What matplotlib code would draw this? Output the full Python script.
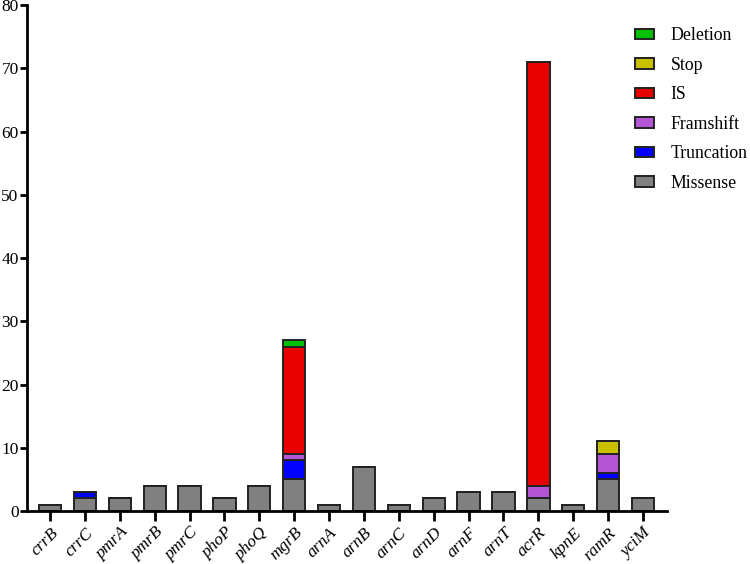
import numpy as np
import matplotlib.pyplot as plt

plt.rcParams['font.family'] = ['Liberation Serif', 'DejaVu Serif']

genes = ['crrB', 'crrC', 'pmrA', 'pmrB', 'pmrC', 'phoP', 'phoQ', 'mgrB', 'arnA',
         'arnB', 'arnC', 'arnD', 'arnF', 'arnT', 'acrR', 'kpnE', 'ramR', 'yciM']

missense   = [1, 2, 2, 4, 4, 2, 4, 5, 1, 7, 1, 2, 3, 3, 2, 1, 5, 2]
truncation = [0, 1, 0, 0, 0, 0, 0, 3, 0, 0, 0, 0, 0, 0, 0, 0, 1, 0]
framshift  = [0, 0, 0, 0, 0, 0, 0, 1, 0, 0, 0, 0, 0, 0, 2, 0, 3, 0]
insertion  = [0, 0, 0, 0, 0, 0, 0, 17, 0, 0, 0, 0, 0, 0, 67, 0, 0, 0]
stop       = [0, 0, 0, 0, 0, 0, 0, 0, 0, 0, 0, 0, 0, 0, 0, 0, 2, 0]
deletion   = [0, 0, 0, 0, 0, 0, 0, 1, 0, 0, 0, 0, 0, 0, 0, 0, 0, 0]

series = [
    ('Missense', missense, '#808080'),
    ('Truncation', truncation, '#0000FF'),
    ('Framshift', framshift, '#B455D6'),
    ('IS', insertion, '#E80000'),
    ('Stop', stop, '#C8C000'),
    ('Deletion', deletion, '#00C000'),
]

fig = plt.figure(figsize=(7.5, 5.64), dpi=100)
ax = fig.add_axes([0.036, 0.094, 0.853, 0.897])

x = np.arange(len(genes))
bottom = np.zeros(len(genes))
handles = []
for name, vals, color in series:
    vals = np.array(vals, dtype=float)
    h = ax.bar(x, vals, 0.64, bottom=bottom, color=color, edgecolor='#222222',
               linewidth=1.4, label=name)
    handles.append(h)
    bottom += vals

ax.set_xlim(-0.66, 17.68)
ax.set_ylim(0, 80)
ax.set_yticks(range(0, 81, 10))
ax.set_xticks(x)
ax.set_xticklabels(genes, rotation=45, ha='right', rotation_mode='anchor',
                   style='italic', fontsize=12.5)
ax.tick_params(axis='y', labelsize=12.5, width=2, length=5, pad=1)
ax.tick_params(axis='x', width=2, length=7, pad=3)
for s in ['top', 'right']:
    ax.spines[s].set_visible(False)
for s in ['left', 'bottom']:
    ax.spines[s].set_linewidth(2)

leg = fig.legend(handles[::-1], [s[0] for s in series][::-1], loc='upper left',
                 bbox_to_anchor=(0.837, 0.964), frameon=False, fontsize=12.8,
                 handlelength=1.05, handleheight=0.55, labelspacing=0.7,
                 handletextpad=0.95, borderaxespad=0)

fig.savefig('out.png', dpi=100)
